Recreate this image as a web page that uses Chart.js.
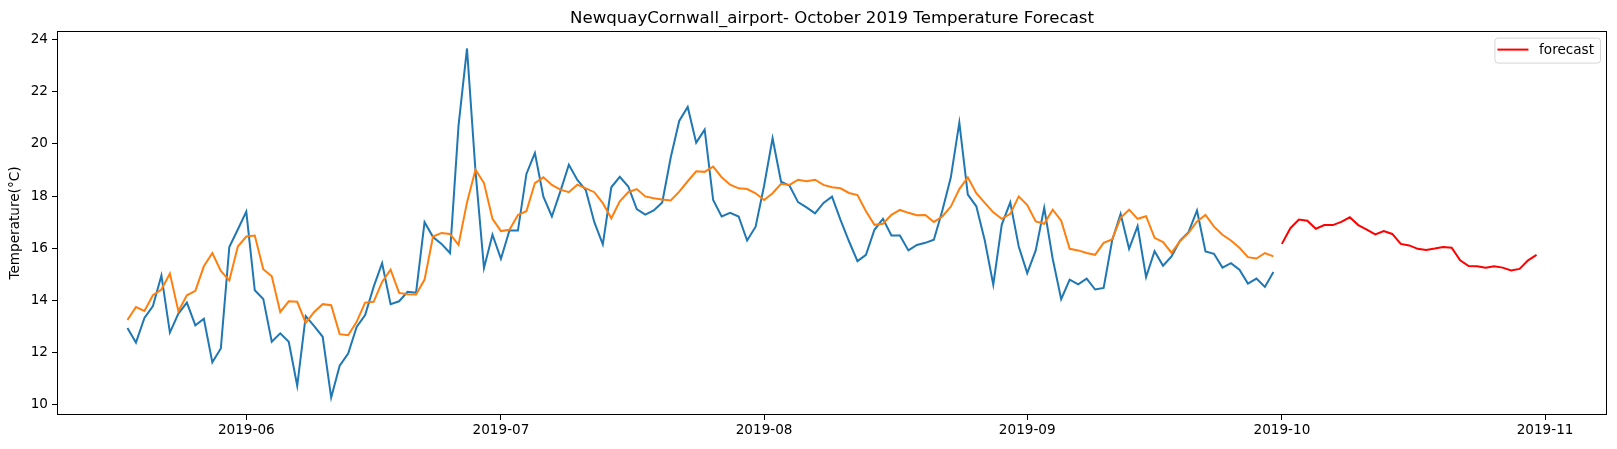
<!DOCTYPE html>
<html>
<head>
<meta charset="utf-8">
<script src="https://cdn.jsdelivr.net/npm/chart.js@4.4.0/dist/chart.umd.min.js"></script>
<style>
  html, body { margin: 0; padding: 0; background: #fff; }
</style>
</head>
<body>
<canvas id="chart" width="1617" height="449"></canvas>
<script>
// daily observed temperature, from 2019-05-18
const observedStart = '2019-05-18';
const observed = [
  12.95, 12.39, 13.33, 13.79, 14.96, 12.77, 13.5, 13.92, 13.05, 13.3, 11.63, 12.16, 16.05, 16.72,
  17.41, 14.39, 14.06, 12.42, 12.74, 12.42, 10.73, 13.4, 13.02, 12.61, 10.28, 11.5, 11.97, 12.99,
  13.44, 14.52, 15.43, 13.86, 13.97, 14.33, 14.3, 17.0, 16.43, 16.17, 15.82, 20.69, 23.66, 18.97,
  15.24, 16.52,
  15.6, 16.68, 16.68, 18.85, 19.65, 17.98, 17.22, 18.18, 19.2, 18.62, 18.23, 17.0, 16.15, 18.34,
  18.74, 18.37, 17.5, 17.29, 17.45, 17.76, 19.48, 20.88, 21.42, 20.05, 20.55, 17.85, 17.22, 17.36,
  17.22, 16.3, 16.83,
  18.4, 20.22, 18.55, 18.4, 17.77, 17.57, 17.34, 17.74, 17.98, 17.09, 16.27, 15.51, 15.75, 16.71,
  17.13, 16.49, 16.49, 15.92, 16.13, 16.21, 16.33, 17.45, 18.72, 20.82, 18.06, 17.61, 16.3, 14.61,
  16.91, 17.76, 16.07,
  15.05, 15.92, 17.55, 15.6, 14.05, 14.8, 14.62, 14.84, 14.42, 14.48, 16.3, 17.32, 15.98, 16.85,
  14.9, 15.89, 15.33, 15.69, 16.3, 16.62, 17.45, 15.88, 15.79, 15.26, 15.43, 15.18, 14.65, 14.84,
  14.52, 15.09
];
// smoothed series, same dates
const smoothed = [
  13.25, 13.75, 13.6, 14.2, 14.42, 15.03, 13.59, 14.2, 14.37, 15.31, 15.82, 15.13, 14.77, 16.07,
  16.45, 16.49, 15.2, 14.93, 13.56, 13.97, 13.95, 13.14, 13.56, 13.86, 13.82, 12.71, 12.67, 13.18,
  13.92, 13.95, 14.71, 15.18, 14.29, 14.24, 14.23, 14.8, 16.45, 16.59, 16.55, 16.13, 17.76, 19.01,
  18.5, 17.13,
  16.66, 16.71, 17.28, 17.42, 18.5, 18.72, 18.43, 18.25, 18.15, 18.44, 18.3, 18.15, 17.73, 17.15,
  17.8, 18.15, 18.27, 17.99, 17.92, 17.87, 17.83, 18.17, 18.57, 18.95, 18.93, 19.13, 18.72, 18.44,
  18.3, 18.27, 18.11,
  17.85, 18.11, 18.47, 18.43, 18.63, 18.57, 18.63, 18.43, 18.34, 18.3, 18.12, 18.04, 17.42, 16.9,
  16.94, 17.28, 17.47, 17.36, 17.27, 17.28, 17.01, 17.22, 17.6, 18.27, 18.72, 18.11, 17.74, 17.38,
  17.13, 17.32, 17.99,
  17.66, 17.03, 16.94, 17.48, 17.06, 15.98, 15.92, 15.82, 15.75, 16.21, 16.34, 17.17, 17.48, 17.13,
  17.23, 16.4, 16.24, 15.83, 16.27, 16.59, 17.03, 17.28, 16.83, 16.52, 16.3, 16.02, 15.66, 15.61,
  15.82, 15.69
];
// October forecast
const forecastStart = '2019-10-01';
const forecast = [
  16.17, 16.77, 17.1, 17.06, 16.75, 16.89, 16.89, 17.01, 17.19, 16.89, 16.72, 16.53, 16.66, 16.55,
  16.17, 16.11, 15.98, 15.94, 15.99, 16.05, 16.02, 15.54, 15.32, 15.31, 15.26, 15.31, 15.26, 15.15,
  15.21, 15.54, 15.75
];
const monthTicks = ['2019-06', '2019-07', '2019-08', '2019-09', '2019-10', '2019-11'];
const tempTicks = [10, 12, 14, 16, 18, 20, 22, 24];

const FONT = 'DejaVu Sans';

function dayNumber(s) {
  const [y, m, d] = s.split('-').map(Number);
  return Date.UTC(y, m - 1, d || 1) / 86400000;
}

function toPoints(start, values) {
  const first = dayNumber(start);
  return values.map((v, i) => ({ x: first + i, y: v }));
}

// matplotlib style 5% margins
const firstDay = dayNumber(observedStart);
const lastDay = dayNumber(forecastStart) + forecast.length - 1;
const xPad = (lastDay - firstDay) * 0.05;
const allValues = observed.concat(smoothed, forecast);
const yLo = Math.min(...allValues);
const yHi = Math.max(...allValues);
const yPad = (yHi - yLo) * 0.05;

const tickLabel = {};
for (const m of monthTicks) tickLabel[dayNumber(m)] = m;

const decorations = {
  id: 'decorations',
  afterDraw(chart) {
    const { ctx, chartArea: a } = chart;
    ctx.save();
    // axes frame
    ctx.strokeStyle = '#000';
    ctx.lineWidth = 1;
    ctx.strokeRect(Math.round(a.left) + 0.5, Math.round(a.top) + 0.5,
      Math.round(a.right - a.left) - 1, Math.round(a.bottom - a.top) - 1);

    // title
    ctx.fillStyle = '#000';
    ctx.font = '16.6px "' + FONT + '"';
    ctx.textAlign = 'center';
    ctx.textBaseline = 'alphabetic';
    ctx.fillText('NewquayCornwall_airport- October 2019 Temperature Forecast',
      (a.left + a.right) / 2, a.top - 8.5);

    // legend (only the labelled dataset)
    const ds = chart.data.datasets.find(d => d.label);
    ctx.font = '13.6px "' + FONT + '"';
    const textW = ctx.measureText(ds.label).width;
    const boxW = 44.6 + textW + 6;
    const boxH = 25;
    const bx = a.right - 7 - boxW;
    const by = a.top + 6.6;
    ctx.beginPath();
    ctx.roundRect(bx + 0.5, by + 0.5, boxW, boxH, 3);
    ctx.fillStyle = 'rgba(255,255,255,0.8)';
    ctx.fill();
    ctx.strokeStyle = '#d6d6d6';
    ctx.stroke();
    ctx.beginPath();
    ctx.moveTo(bx + 3, by + 12);
    ctx.lineTo(bx + 34, by + 12);
    ctx.strokeStyle = ds.borderColor;
    ctx.lineWidth = 2;
    ctx.stroke();
    ctx.fillStyle = '#000';
    ctx.textAlign = 'left';
    ctx.textBaseline = 'middle';
    ctx.fillText(ds.label, bx + 44.6, by + 12.5);
    ctx.restore();
  }
};

const axisCommon = {
  grid: { display: true, drawOnChartArea: false, drawTicks: true, tickLength: 5, color: '#000', lineWidth: 1 },
  border: { display: false }
};

new Chart(document.getElementById('chart'), {
  type: 'line',
  data: {
    datasets: [
      {
        data: toPoints(observedStart, observed),
        borderColor: '#1f77b4',
        borderWidth: 2,
        pointRadius: 0,
        order: 3
      },
      {
        data: toPoints(observedStart, smoothed),
        borderColor: '#ff7f0e',
        borderWidth: 2,
        pointRadius: 0,
        order: 2
      },
      {
        label: 'forecast',
        data: toPoints(forecastStart, forecast),
        borderColor: '#ff0000',
        borderWidth: 2,
        pointRadius: 0,
        order: 1
      }
    ]
  },
  options: {
    responsive: false,
    animation: false,
    devicePixelRatio: 1,
    parsing: false,
    layout: { padding: { left: 0, top: 31, right: 10, bottom: 0 } },
    plugins: {
      legend: { display: false },
      title: { display: false },
      tooltip: { enabled: false }
    },
    elements: { line: { tension: 0, fill: false } },
    scales: {
      x: {
        ...axisCommon,
        type: 'linear',
        min: firstDay - xPad,
        max: lastDay + xPad,
        afterBuildTicks: s => { s.ticks = monthTicks.map(m => ({ value: dayNumber(m) })); },
        afterFit: s => { s.height = 34; },
        ticks: {
          autoSkip: false,
          maxRotation: 0,
          padding: 2,
          color: '#000',
          font: { family: FONT, size: 13.6 },
          callback: v => tickLabel[v]
        }
      },
      y: {
        ...axisCommon,
        type: 'linear',
        min: yLo - yPad,
        max: yHi + yPad,
        afterBuildTicks: s => { s.ticks = tempTicks.map(v => ({ value: v })); },
        afterFit: s => { s.width = 57; },
        ticks: {
          padding: 4,
          color: '#000',
          font: { family: FONT, size: 13.6 },
          callback: v => String(v)
        },
        title: {
          display: true,
          text: 'Temperature(°C)',
          color: '#000',
          font: { family: FONT, size: 13.6 },
          padding: { top: 7, bottom: 0 }
        }
      }
    }
  },
  plugins: [decorations]
});
</script>
</body>
</html>
